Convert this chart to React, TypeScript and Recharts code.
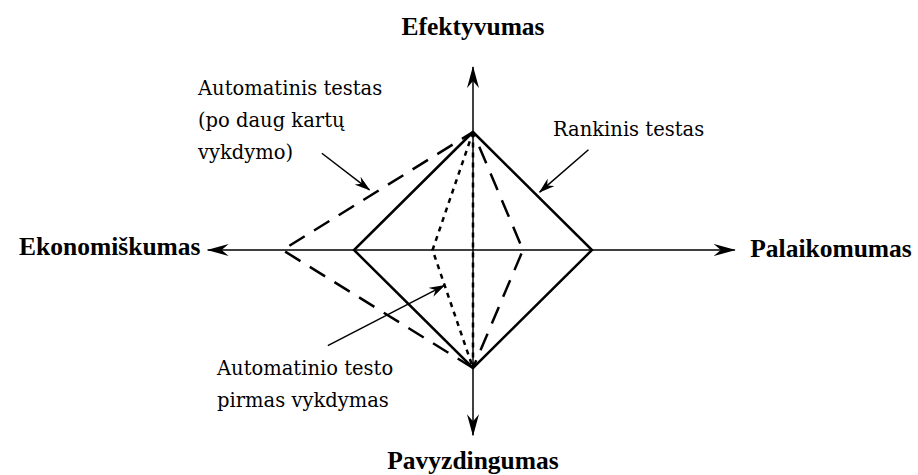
import { ComposedChart, Line, Scatter, XAxis, YAxis } from 'recharts';

// quality axes, clockwise from the top
const axisNames = ['Efektyvumas', 'Palaikomumas', 'Pavyzdingumas', 'Ekonomiškumas'];
// profile values on each axis (top, right, bottom, left)
const manualTest = [1, 1, 1, 1];
const automatedRepeated = [1, 0.42, 1, 1.6];
const automatedFirst = [1, 0, 1, 0.34];
// annotation texts
const manualNote = ['Rankinis testas'];
const repeatedNote = ['Automatinis testas', '(po daug kartų', 'vykdymo)'];
const firstNote = ['Automatinio testo', 'pirmas vykdymas'];

// layout: where the axes cross and how many pixels one unit takes
const W = 918;
const H = 475;
const CX = 473;
const CY = 250;
const UX = 119;
const UY = 118;
const axisReach = [1.55, 2.2, 1.57, 2.23];

const toPoint = (i: number, v: number) => {
  if (i === 0) return { x: 0, y: v };
  if (i === 1) return { x: v, y: 0 };
  if (i === 2) return { x: 0, y: -v };
  return { x: -v, y: 0 };
};

const manualData = [0, 1, 2, 3, 0].map((i) => toPoint(i, manualTest[i]));
const repeatedData = [2, 3, 0, 1, 2].map((i) => toPoint(i, automatedRepeated[i]));
const firstData = [0, 3, 2, 1, 0].map((i) => toPoint(i, automatedFirst[i]));
const hAxis = [toPoint(3, axisReach[3]), toPoint(1, axisReach[1])];
const vAxis = [toPoint(2, axisReach[2]), toPoint(0, axisReach[0])];

const arrows = [
  [{ x: -1.27, y: 0.82 }, { x: -0.87, y: 0.51 }],
  [{ x: 0.97, y: 0.85 }, { x: 0.56, y: 0.49 }],
  [{ x: -1.22, y: -0.81 }, { x: -0.24, y: -0.3 }],
];

const titles = [
  { x: 0, y: 1.82, lines: [axisNames[0]], anchor: 'middle' },
  { x: 2.33, y: -0.06, lines: [axisNames[1]], anchor: 'start' },
  { x: 0, y: -1.86, lines: [axisNames[2]], anchor: 'middle' },
  { x: -2.29, y: -0.04, lines: [axisNames[3]], anchor: 'end' },
];

const notes = [
  { x: 0.672, y: 0.966, lines: manualNote, anchor: 'start' },
  { x: -2.311, y: 1.314, lines: repeatedNote, anchor: 'start' },
  { x: -2.151, y: -1.059, lines: firstNote, anchor: 'start' },
];

const makeText = (family: string, size: number, weight: string) => (p: any) => (
  <text
    x={p.cx}
    y={p.cy}
    textAnchor={p.payload.anchor}
    fontFamily={family}
    fontSize={size}
    fontWeight={weight}
    fill="#000"
  >
    {p.payload.lines.map((line: string, i: number) => (
      <tspan key={i} x={p.cx} dy={i === 0 ? 0 : 32}>
        {line}
      </tspan>
    ))}
  </text>
);

export default function App() {
  return (
    <div style={{ position: 'absolute', left: 0, top: 0, background: '#fff' }}>
      <ComposedChart width={W} height={H} margin={{ top: 0, right: 0, bottom: 0, left: 0 }}>
        <defs>
          <marker
            id="axisHead"
            viewBox="0 0 22 12"
            refX="21"
            refY="6"
            markerWidth="22"
            markerHeight="12"
            markerUnits="userSpaceOnUse"
            orient="auto-start-reverse"
          >
            <path d="M0,0 L22,6 L0,12 L7,6 Z" fill="#000" />
          </marker>
          <marker
            id="noteHead"
            viewBox="0 0 16 10"
            refX="15"
            refY="5"
            markerWidth="16"
            markerHeight="10"
            markerUnits="userSpaceOnUse"
            orient="auto"
          >
            <path d="M0,0 L16,5 L0,10 L5,5 Z" fill="#000" />
          </marker>
        </defs>
        <XAxis type="number" dataKey="x" domain={[-CX / UX, (W - CX) / UX]} allowDataOverflow hide />
        <YAxis type="number" dataKey="y" domain={[-(H - CY) / UY, CY / UY]} allowDataOverflow hide />
        <Line
          data={hAxis}
          dataKey="y"
          stroke="#000"
          strokeWidth={1.5}
          dot={false}
          markerStart="url(#axisHead)"
          markerEnd="url(#axisHead)"
          isAnimationActive={false}
        />
        <Line
          data={vAxis}
          dataKey="y"
          stroke="#000"
          strokeWidth={1.5}
          dot={false}
          markerStart="url(#axisHead)"
          markerEnd="url(#axisHead)"
          isAnimationActive={false}
        />
        <Line data={manualData} dataKey="y" stroke="#000" strokeWidth={2.5} dot={false} isAnimationActive={false} />
        <Line
          data={repeatedData}
          dataKey="y"
          stroke="#000"
          strokeWidth={2.5}
          strokeDasharray="18 11"
          dot={false}
          isAnimationActive={false}
        />
        <Line
          data={firstData}
          dataKey="y"
          stroke="#000"
          strokeWidth={2.5}
          strokeDasharray="5 5"
          dot={false}
          isAnimationActive={false}
        />
        {arrows.map((a, i) => (
          <Line
            key={i}
            data={a}
            dataKey="y"
            stroke="#000"
            strokeWidth={1.5}
            dot={false}
            markerEnd="url(#noteHead)"
            isAnimationActive={false}
          />
        ))}
        <Scatter data={titles} dataKey="y" shape={makeText('"Liberation Serif", serif', 25.5, 'bold')} isAnimationActive={false} />
        <Scatter data={notes} dataKey="y" shape={makeText('"DejaVu Serif", serif', 19.5, 'normal')} isAnimationActive={false} />
      </ComposedChart>
    </div>
  );
}
